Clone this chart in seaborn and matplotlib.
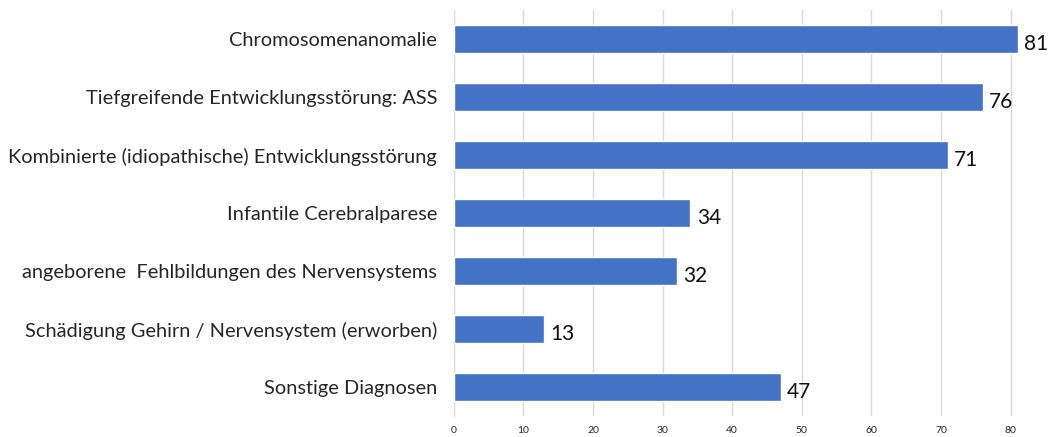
import matplotlib
matplotlib.use("Agg")
import matplotlib.pyplot as plt
import seaborn as sns
import pandas as pd

# ── Data ──────────────────────────────────────────────────────────
categories = [
    "Chromosomenanomalie",
    "Tiefgreifende Entwicklungsstörung: ASS",
    "Kombinierte (idiopathische) Entwicklungsstörung",
    "Infantile Cerebralparese",
    "angeborene  Fehlbildungen des Nervensystems",
    "Schädigung Gehirn / Nervensystem (erworben)",
    "Sonstige Diagnosen",
]
counts = [81, 76, 71, 34, 32, 13, 47]
x_ticks = [0, 10, 20, 30, 40, 50, 60, 70, 80]

df = pd.DataFrame({"Diagnose": categories, "Anzahl": counts})

sns.set_style("white")
plt.rcParams["font.family"] = ["Lato", "DejaVu Sans"]

fig = plt.figure(figsize=(10.53, 4.37), dpi=100)
ax = fig.add_axes([0.431, 0.048, 0.542, 0.929])

sns.barplot(data=df, x="Anzahl", y="Diagnose", orient="h",
            color="#4472C4", saturation=1, width=0.48, ax=ax, zorder=3)

# value labels right of the bars
for i, v in enumerate(counts):
    ax.text(v + 0.9, i + 0.08, str(v), va="center", ha="left",
            fontsize=15, color="#111111")

ax.set_xlim(0, 82)
ax.set_ylim(6.5, -0.5)
ax.set_xticks(x_ticks)
ax.set_xticklabels([str(t) for t in x_ticks], fontsize=7.5)
ax.tick_params(axis="x", length=0, pad=7)
ax.tick_params(axis="y", length=0, labelsize=14.4, pad=12)
ax.set_xlabel("")
ax.set_ylabel("")
ax.xaxis.grid(True, color="#d9d9d9", linewidth=1, zorder=0)
ax.yaxis.grid(False)
for side in ["top", "right", "bottom"]:
    ax.spines[side].set_visible(False)
ax.spines["left"].set_color("#d9d9d9")

fig.savefig("out.png", dpi=100)
